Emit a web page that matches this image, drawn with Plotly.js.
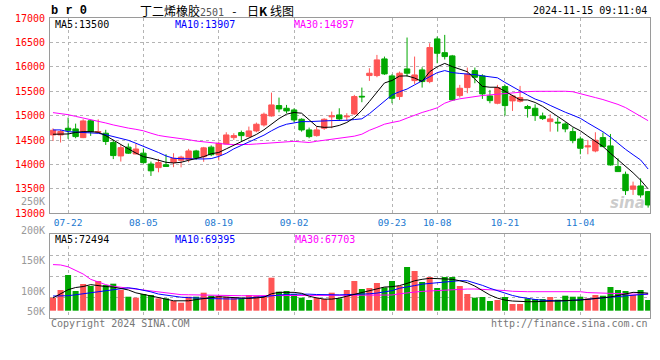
<!DOCTYPE html>
<html><head><meta charset="utf-8">
<script src="https://cdn.plot.ly/plotly-3.0.1.min.js"></script>
<style>html,body{margin:0;padding:0;background:#fff}#chart{width:660px;height:360px}</style>
</head><body><div id="chart"></div>
<script>
// ---- data ----
const dates = ['07-18','07-19','07-22','07-23','07-24','07-25','07-26','07-29','07-30','07-31',
 '08-01','08-02','08-05','08-06','08-07','08-08','08-09','08-12','08-13','08-14','08-15','08-16','08-19','08-20','08-21','08-22','08-23','08-26','08-27','08-28','08-29','08-30',
 '09-02','09-03','09-04','09-05','09-06','09-09','09-10','09-11','09-12','09-13','09-18','09-19','09-20','09-23','09-24','09-25','09-26','09-27','09-30',
 '10-08','10-09','10-10','10-11','10-14','10-15','10-16','10-17','10-18','10-21','10-22','10-23','10-24','10-25','10-28','10-29','10-30','10-31',
 '11-01','11-04','11-05','11-06','11-07','11-08','11-11','11-12','11-13','11-14','11-15'];

const openP  = [14605,14605,14742,14728,14550,14895,14660,14640,14448,14175,14355,14215,14232,14010,13935,13995,14040,14085,14100,14277,
 14160,14355,14195,14420,14550,14653,14571,14687,14810,14994,15206,15151,15117,14926,14708,14591,14742,14975,15015,14975,
 15035,15397,15821,15821,16162,15814,15391,15957,15718,15937,15698,16572,16290,16224,15411,15575,15923,15814,15404,15254,
 15595,15302,15295,15186,15151,14994,14878,14865,14830,14673,14523,14359,14277,14550,14380,13956,13799,13492,13560,13444];
const highP  = [14740,14710,14960,14837,14926,14915,14925,14710,14503,14400,14430,14430,14330,14060,14115,14210,14230,14180,14320,14300,
 14360,14390,14468,14660,14640,14694,14776,14858,15063,15472,15370,15220,15150,14946,14755,14776,14946,15083,15151,15050,
 15425,15575,15971,16244,16210,15848,15903,16600,16210,15991,16483,16620,16654,16244,15630,15985,15985,15848,15527,15630,
 15630,15425,15609,15220,15233,15063,15028,14960,14865,14755,14571,14503,14660,14653,14625,14127,13854,13649,13717,13458];
const lowP   = [14480,14450,14525,14537,14540,14585,14640,14400,14110,14060,14215,14210,14020,13765,13840,13950,13945,13940,14045,14095,
 14055,14170,14080,14415,14503,14482,14560,14660,14776,14980,15069,15049,14865,14673,14537,14571,14708,14742,14892,14890,
 15015,15275,15712,15787,15835,15254,15322,15800,15650,15575,15664,16073,16150,15302,15370,15459,15664,15343,15254,15233,
 15000,15097,15270,14960,14892,14912,14673,14673,14660,14434,14209,14209,14250,14360,13977,13850,13376,13376,13321,13116];
const closeP = [14701,14675,14700,14571,14892,14670,14675,14470,14182,14345,14232,14317,14037,13870,14040,13960,14125,14150,14277,14140,
 14340,14200,14434,14605,14591,14591,14687,14824,15028,15220,15138,15097,14912,14708,14571,14708,14926,14995,14933,14990,
 15391,15385,15869,16142,15855,15356,15869,15869,15834,15698,16395,16278,16210,15322,15561,15848,15787,15445,15308,15575,
 15206,15404,15370,15145,15001,14940,14933,14851,14728,14489,14332,14380,14496,14366,13990,13854,13464,13560,13376,13171];

const ma5 = [14619,14619,14625,14655,14673,14673,14660,14590,14500,14395,14320,14235,14160,14130,14095,14045,14030,14045,14085,14115,
 14160,14220,14245,14320,14390,14460,14530,14615,14710,14820,14940,15030,15065,15050,14920,14780,14760,14765,14800,14860,
 14960,15110,15290,15480,15670,15720,15810,15815,15770,15700,15900,16000,16070,16005,15960,15900,15750,15600,15582,15582,
 15500,15410,15322,15322,15270,15190,15090,14990,14880,14770,14690,14580,14480,14370,14229,14100,13960,13830,13680,13500];
const ma10 = [14708,14708,14672,14665,14657,14650,14638,14610,14571,14530,14495,14435,14375,14315,14245,14175,14127,14118,14113,14113,
 14113,14120,14165,14229,14320,14390,14460,14530,14600,14690,14770,14824,14855,14878,14878,14878,14892,14899,14899,14905,
 14920,14935,15040,15170,15300,15425,15490,15545,15630,15710,15800,15880,15923,15882,15865,15855,15840,15815,15795,15775,
 15680,15590,15493,15420,15340,15285,15210,15135,15070,15010,14946,14850,14760,14670,14560,14430,14310,14200,14093,13907];
const ma30 = [15062,15045,15020,14985,14955,14920,14885,14850,14810,14772,14745,14720,14690,14640,14595,14570,14553,14533,14508,14480,
 14460,14440,14422,14415,14408,14402,14410,14420,14433,14445,14458,14467,14474,14462,14450,14475,14497,14510,14528,14550,
 14580,14620,14700,14760,14825,14860,14890,14950,15010,15065,15110,15160,15255,15310,15345,15370,15395,15412,15425,15440,
 15462,15475,15483,15492,15498,15500,15500,15500,15500,15490,15445,15410,15370,15330,15285,15230,15165,15080,14990,14897];

const volume = [53900,85800,147900,81600,110600,102300,123000,106500,111900,85800,58000,53900,69200,65000,51000,51000,40200,33100,58000,58000,
 74600,62100,60900,58000,53900,51000,65000,60900,58000,136700,78700,81600,69200,53900,44300,53900,48500,74600,51000,85800,
 123000,89900,94000,114800,96500,123000,102300,181000,164500,118900,139600,94000,139600,139600,102300,69200,53900,56800,40200,44300,
 56800,27800,27800,51000,48500,48500,56800,45600,62100,58000,58000,51000,65000,62100,98200,85800,81600,65000,85800,44300];
const vma5 = [53000,70000,87000,96000,100000,108000,103000,100000,98000,92000,86000,74000,68000,63000,55000,48000,41000,40000,41000,46000,
 50000,56000,58000,56000,54000,52000,51000,53000,56000,70000,76000,76000,76000,72000,60000,53000,48000,48000,52000,60000,
 68000,76000,84000,93000,98000,99400,104000,113000,124000,130000,134000,133000,131500,130000,124000,116000,102000,84000,65000,52000,
 44000,40000,37300,37300,37300,39000,40000,40000,41500,43000,44000,47000,51000,54000,57000,63000,70000,76000,75000,72494];
const vma10 = [60800,60800,62000,66000,70500,74000,78000,83000,88000,92000,95000,91000,85000,78000,69000,64000,59000,56000,54000,52000,
 51000,50000,49500,48500,48300,50000,53000,55000,57000,61000,66000,67500,68500,69000,68500,67000,65500,64900,65500,66500,
 67000,68000,70000,73000,77000,83000,93000,100000,104000,110000,113000,116000,119000,122000,124500,124000,116000,105000,93000,83000,
 72000,63000,56000,50000,46500,43500,41500,40500,41000,42500,45000,47500,50500,53500,57000,60500,63500,66000,68500,69395];
const vma30 = [191000,189500,182000,168000,152000,130000,118000,108000,101000,97000,94000,88000,84000,80000,76000,72000,68000,66500,66000,65000,
 64500,64000,63500,63000,62500,62100,62100,62100,62100,62100,62100,62100,62100,62100,62100,62100,62100,62100,62100,62100,
 62100,62100,63000,63500,64000,65000,70000,74600,77000,80000,81500,84000,87000,88500,89500,89800,89800,89000,87500,85600,
 83500,80500,78700,78700,78700,78700,78700,78700,78700,78700,78700,75000,73500,72000,71000,70000,69500,68800,68200,67703];

const dateTicks = ['07-22','08-05','08-19','09-02','09-23','10-08','10-21','11-04'];
const priceTicks = [13000,13500,14000,14500,15000,15500,16000,16500,17000];
const priceTickText = ['13000','13500','14000','14500','15000','15500','16000','16500','17000'];

// ---- styles ----
const RED = '#ff5555', GREEN = '#00a800';
const MONO = 'DejaVu Sans Mono, monospace';
const GRID = '#b4b4b4', FRAME = '#9a9a9a';

const volColors = closeP.map((c, i) => c >= openP[i] ? RED : GREEN);

const traces = [
  {type:'candlestick', x:dates, open:openP, high:highP, low:lowP, close:closeP,
   xaxis:'x', yaxis:'y', whiskerwidth:0, hoverinfo:'skip',
   increasing:{line:{color:RED,width:1}, fillcolor:RED},
   decreasing:{line:{color:GREEN,width:1}, fillcolor:GREEN}},
  {type:'scatter', mode:'lines', x:dates, y:ma30, xaxis:'x', yaxis:'y', line:{color:'#ff00ff',width:1}, hoverinfo:'skip'},
  {type:'scatter', mode:'lines', x:dates, y:ma10, xaxis:'x', yaxis:'y', line:{color:'#0000ff',width:1}, hoverinfo:'skip'},
  {type:'scatter', mode:'lines', x:dates, y:ma5, xaxis:'x', yaxis:'y', line:{color:'#000000',width:1}, hoverinfo:'skip'},
  {type:'bar', x:dates, y:volume, xaxis:'x2', yaxis:'y2', marker:{color:volColors, line:{width:0}}, hoverinfo:'skip'},
  {type:'scatter', mode:'lines', x:dates, y:vma30, xaxis:'x2', yaxis:'y2', line:{color:'#ff00ff',width:1}, hoverinfo:'skip'},
  {type:'scatter', mode:'lines', x:dates, y:vma10, xaxis:'x2', yaxis:'y2', line:{color:'#0000ff',width:1}, hoverinfo:'skip'},
  {type:'scatter', mode:'lines', x:dates, y:vma5, xaxis:'x2', yaxis:'y2', line:{color:'#000000',width:1}, hoverinfo:'skip'}
];

function ann(text, x, y, color, xanchor, size, extra) {
  return Object.assign({text:text, x:x, y:y, xref:'paper', yref:'paper', showarrow:false,
    xanchor:xanchor, yanchor:'middle', font:{family:MONO, size:size, color:color}, borderpad:0}, extra || {});
}

const annotations = [
  ann('<b>b r 0</b>', 0.0, 1.024, '#000', 'left', 12, {font:{family:'Liberation Mono, monospace', size:12, color:'#000'}}),
  ann('丁二烯橡胶<span style="font-family:DejaVu Sans Mono;font-size:10px;color:#555">2501</span>&nbsp;&nbsp;&nbsp;-&nbsp;&nbsp;&nbsp;&nbsp;日<b>K</b>&nbsp;线图', 0.148, 1.025, '#000', 'left', 12,
      {font:{family:'Noto Sans CJK SC, sans-serif', size:12, color:'#000'}}),
  ann('2024-11-15 09:11:04', 0.997, 1.024, '#000', 'right', 10),
  ann('MA5:13500', 0.007, 0.979, '#000', 'left', 10),
  ann('MA10:13907', 0.207, 0.979, '#0000ff', 'left', 10),
  ann('MA30:14897', 0.405, 0.979, '#ff00ff', 'left', 10),
  ann('MA5:72494', 0.007, 0.263, '#000', 'left', 10),
  ann('MA10:69395', 0.207, 0.263, '#0000ff', 'left', 10),
  ann('MA30:67703', 0.407, 0.263, '#ff00ff', 'left', 10),
  ann('250K', -0.006, 0.39, '#999', 'right', 10),
  ann('200K', -0.006, 0.293, '#999', 'right', 10),
  ann('150K', -0.006, 0.193, '#999', 'right', 10),
  ann('100K', -0.006, 0.09, '#999', 'right', 10),
  ann('50K', -0.006, 0.023, '#999', 'right', 10),
  ann('Copyright 2024 SINA.COM', 0.0, -0.019, '#777', 'left', 10),
  ann('http://finance.sina.com.cn', 0.999, -0.019, '#777', 'right', 10),
  ann('<i><b>sina</b></i>', 0.962, 0.385, 'rgba(160,160,160,0.55)', 'center', 15, {font:{family:'DejaVu Sans, sans-serif', size:15, color:'rgba(160,160,160,0.55)'}})
];

const xCommon = {type:'category', range:[-0.4, 79.25], tickmode:'array', tickvals:dateTicks, ticktext:dateTicks,
  showgrid:true, gridcolor:GRID, griddash:'dot', gridwidth:1, showline:true, linecolor:FRAME, linewidth:1, mirror:true,
  ticks:'', zeroline:false, fixedrange:true, rangeslider:{visible:false}};

const layout = {
  width:660, height:360, margin:{l:50, r:10, t:18, b:42},
  paper_bgcolor:'#fff', plot_bgcolor:'#fff', showlegend:false,
  boxgap:0.28, boxgroupgap:0, bargap:0.2,
  xaxis: Object.assign({}, xCommon, {anchor:'y', tickfont:{family:MONO, size:9.5, color:'#1a78d0'}}),
  yaxis: {domain:[0.349, 1], range:[13000, 17000], tickmode:'array', tickvals:priceTicks, ticktext:priceTickText,
    tickfont:{family:MONO, size:10, color:'#ff0000'}, showgrid:true, gridcolor:GRID, griddash:'dot',
    showline:true, linecolor:FRAME, mirror:true, ticks:'', zeroline:false, fixedrange:true, ticklabelstandoff:2},
  xaxis2: Object.assign({}, xCommon, {anchor:'y2', matches:'x', showticklabels:false}),
  yaxis2: {domain:[0, 0.279], range:[-30240, 316500], tickmode:'array', tickvals:[56430, 143120, 229810],
    showticklabels:false, showgrid:true, gridcolor:GRID, griddash:'dot',
    showline:true, linecolor:FRAME, mirror:true, ticks:'', zeroline:false, fixedrange:true},
  annotations: annotations
};

Plotly.newPlot('chart', traces, layout, {staticPlot:true, displayModeBar:false});
</script>
</body></html>
